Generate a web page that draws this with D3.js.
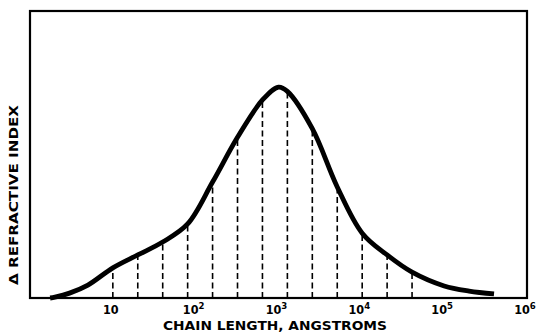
<!DOCTYPE html>
<html>
<head>
<meta charset="utf-8">
<script src="https://cdn.jsdelivr.net/npm/d3@7"></script>
<style>
  body { margin: 0; background: #fff; }
  text { font-family: "DejaVu Sans Condensed", "DejaVu Sans", sans-serif; font-weight: bold; fill: #000; }
</style>
</head>
<body>
<div id="chart"></div>
<script>
// chain length (angstroms) and refractive index difference along the curve
const chainLength = [1.75, 2, 3, 5, 10, 20, 40, 80, 160, 320, 640, 1000, 1280, 2560, 5120, 10240, 20480, 40960, 100000, 200000, 400000];
const refIndex = [0, 0.3, 1.7, 4.5, 10.5, 15, 19.5, 25.8, 40.4, 56, 69, 73.5, 72, 59, 38.7, 22.6, 15, 9, 4.2, 2.4, 1.4];

// dashed sampling ordinates
const dropLength = [10, 20, 40, 80, 160, 320, 640, 1280, 2560, 5120, 10240, 20480, 40960];
const dropIndex = [10.5, 15, 19.5, 25.8, 40.4, 56, 69, 72, 59, 38.7, 22.6, 15, 9];

const tickValues = [10, 100, 1000, 10000, 100000, 1000000];
const tickExp = ['', '2', '3', '4', '5', '6'];

const width = 537;
const height = 332;
const margin = { top: 11, right: 10, bottom: 34, left: 30 };

const svg = d3.select('#chart')
  .append('svg')
  .attr('width', width)
  .attr('height', height);

const x = d3.scaleLog().domain([1, 1e6]).range([margin.left, width - margin.right]);
const y = d3.scaleLinear().domain([0, 100]).range([height - margin.bottom, margin.top]);

// dashed drop lines
svg.append('g')
  .selectAll('line')
  .data(dropLength)
  .join('line')
  .attr('x1', d => x(d))
  .attr('x2', d => x(d))
  .attr('y1', y(0))
  .attr('y2', (d, i) => y(dropIndex[i]))
  .attr('stroke', '#000')
  .attr('stroke-width', 1.6)
  .attr('stroke-dasharray', '6,3.5');

// frame
svg.append('rect')
  .attr('x', x(1))
  .attr('y', y(100))
  .attr('width', x(1e6) - x(1))
  .attr('height', y(0) - y(100))
  .attr('fill', 'none')
  .attr('stroke', '#000')
  .attr('stroke-width', 2.2);

// curve
const line = d3.line()
  .x(d => x(d[0]))
  .y(d => y(d[1]))
  .curve(d3.curveCatmullRom.alpha(0.5));

svg.append('path')
  .datum(chainLength.map((d, i) => [d, refIndex[i]]))
  .attr('d', line)
  .attr('fill', 'none')
  .attr('stroke', '#000')
  .attr('stroke-width', 4.8)
  .attr('stroke-linejoin', 'round');

// tick labels
const ticks = svg.append('g')
  .selectAll('text')
  .data(tickValues)
  .join('text')
  .attr('x', d => x(d) - 2)
  .attr('y', 314)
  .attr('text-anchor', 'middle')
  .style('font-size', '12.5px');

ticks.append('tspan').text('10');
ticks.append('tspan')
  .attr('dy', -5)
  .style('font-size', '9.5px')
  .text((d, i) => tickExp[i]);

// axis titles
svg.append('text')
  .attr('x', 275)
  .attr('y', 330)
  .attr('text-anchor', 'middle')
  .attr('textLength', 224)
  .attr('lengthAdjust', 'spacingAndGlyphs')
  .style('font-size', '13px')
  .text('CHAIN LENGTH, ANGSTROMS');

svg.append('text')
  .attr('transform', 'translate(18,195) rotate(-90)')
  .attr('text-anchor', 'middle')
  .attr('textLength', 180)
  .attr('lengthAdjust', 'spacingAndGlyphs')
  .style('font-size', '13px')
  .text('Δ REFRACTIVE INDEX');
</script>
</body>
</html>
